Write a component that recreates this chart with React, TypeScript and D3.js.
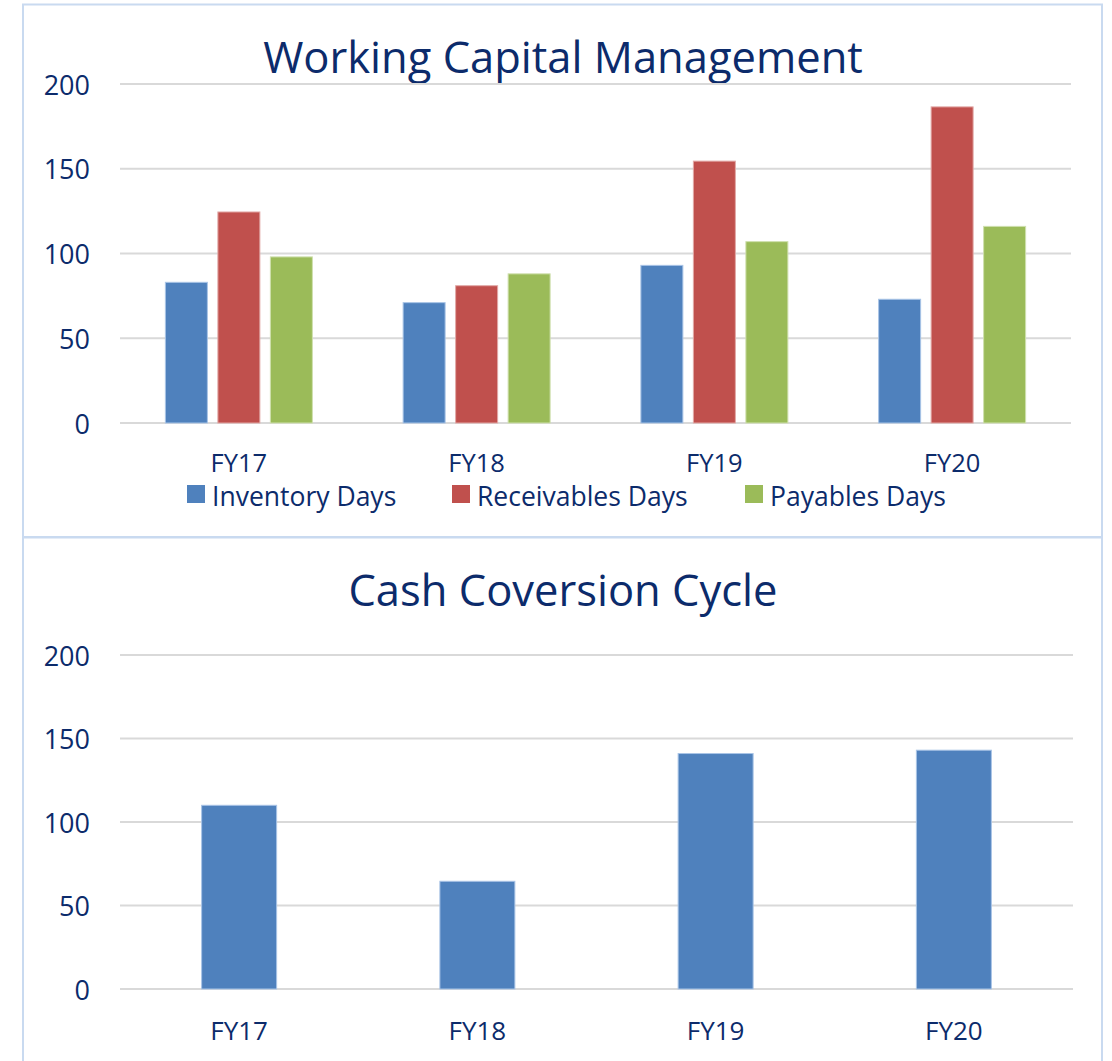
import React from 'react';
import * as d3 from 'd3';

const years = ['FY17', 'FY18', 'FY19', 'FY20'];
const seriesNames = ['Inventory Days', 'Receivables Days', 'Payables Days'];
const inventoryDays = [83, 71, 93, 73];
const receivablesDays = [124.5, 81, 154.5, 186.5];
const payablesDays = [98, 88, 107, 116];
const cashCycle = [110, 64.5, 141, 143];
const yTicks = [0, 50, 100, 150, 200];

const colors = ['#4F81BD', '#C0504D', '#9BBB59'];
const strokes = ['#A9C4E6', '#E2A9A7', '#CFE0AE'];
const textColor = '#0C2B6B';
const font = "'Open Sans', sans-serif";

const W = 1112;
const H = 1061;

const App = () => {
  const series = [inventoryDays, receivablesDays, payablesDays];

  // top chart
  const x1 = d3.scaleBand().domain(years).range([120, 1071]).padding(0);
  const y1 = d3.scaleLinear().domain([0, 200]).range([423, 84]);
  const inner = d3.scaleBand().domain(seriesNames).range([0, 147]).paddingInner(0.2);

  // bottom chart
  const x2 = d3.scaleBand().domain(years).range([120, 1073]).padding(0);
  const y2 = d3.scaleLinear().domain([0, 200]).range([989, 655]);
  const bw2 = 75;

  const legendX = [187, 452, 745];

  return (
    <div style={{ position: 'absolute', left: 0, top: 0 }}>
      <svg width={W} height={H} style={{ display: 'block', background: '#fff' }}>
        {/* panel borders */}
        <rect x={23} y={4.5} width={1079} height={533} fill="none" stroke="#C9DAF0" strokeWidth={2} />
        <rect x={23} y={537} width={1079} height={530} fill="none" stroke="#C9DAF0" strokeWidth={2} />

        {/* ---- Working Capital Management ---- */}
        <text x={563} y={56} textAnchor="middle" dominantBaseline="central" fontFamily={font} fontSize={43.5} fill={textColor}>
          Working Capital Management
        </text>
        {yTicks.map(t => (
          <g key={'g1' + t}>
            <line x1={120} x2={1071} y1={y1(t)} y2={y1(t)} stroke="#D9D9D9" strokeWidth={2} />
            <text x={90} y={y1(t)} textAnchor="end" dominantBaseline="central" fontFamily={font} fontSize={27} fill={textColor}>
              {t}
            </text>
          </g>
        ))}
        {years.map((yr, i) => {
          const gx = x1(yr)! + (x1.bandwidth() - 147) / 2;
          return (
            <g key={'b1' + yr}>
              {series.map((s, k) => (
                <rect
                  key={k}
                  x={gx + inner(seriesNames[k])!}
                  y={y1(s[i])}
                  width={inner.bandwidth()}
                  height={y1(0) - y1(s[i])}
                  fill={colors[k]}
                  stroke={strokes[k]}
                  strokeWidth={1}
                />
              ))}
              <text x={x1(yr)! + x1.bandwidth() / 2} y={462} textAnchor="middle" dominantBaseline="central" fontFamily={font} fontSize={25.5} fill={textColor}>
                {yr}
              </text>
            </g>
          );
        })}
        {seriesNames.map((n, k) => (
          <g key={'lg' + n}>
            <rect x={legendX[k]} y={485} width={18} height={18} fill={colors[k]} />
            <text x={legendX[k] + 25} y={496} dominantBaseline="central" fontFamily={font} fontSize={26.5} fill={textColor}>
              {n}
            </text>
          </g>
        ))}

        {/* ---- Cash Coversion Cycle ---- */}
        <text x={563} y={589} textAnchor="middle" dominantBaseline="central" fontFamily={font} fontSize={43.5} fill={textColor}>
          Cash Coversion Cycle
        </text>
        {yTicks.map(t => (
          <g key={'g2' + t}>
            <line x1={120} x2={1073} y1={y2(t)} y2={y2(t)} stroke="#D9D9D9" strokeWidth={2} />
            <text x={90} y={y2(t)} textAnchor="end" dominantBaseline="central" fontFamily={font} fontSize={27} fill={textColor}>
              {t}
            </text>
          </g>
        ))}
        {years.map((yr, i) => (
          <g key={'b2' + yr}>
            <rect
              x={x2(yr)! + (x2.bandwidth() - bw2) / 2}
              y={y2(cashCycle[i])}
              width={bw2}
              height={y2(0) - y2(cashCycle[i])}
              fill={colors[0]}
              stroke={strokes[0]}
              strokeWidth={1}
            />
            <text x={x2(yr)! + x2.bandwidth() / 2} y={1030} textAnchor="middle" dominantBaseline="central" fontFamily={font} fontSize={26} fill={textColor}>
              {yr}
            </text>
          </g>
        ))}
      </svg>
    </div>
  );
};

export default App;
